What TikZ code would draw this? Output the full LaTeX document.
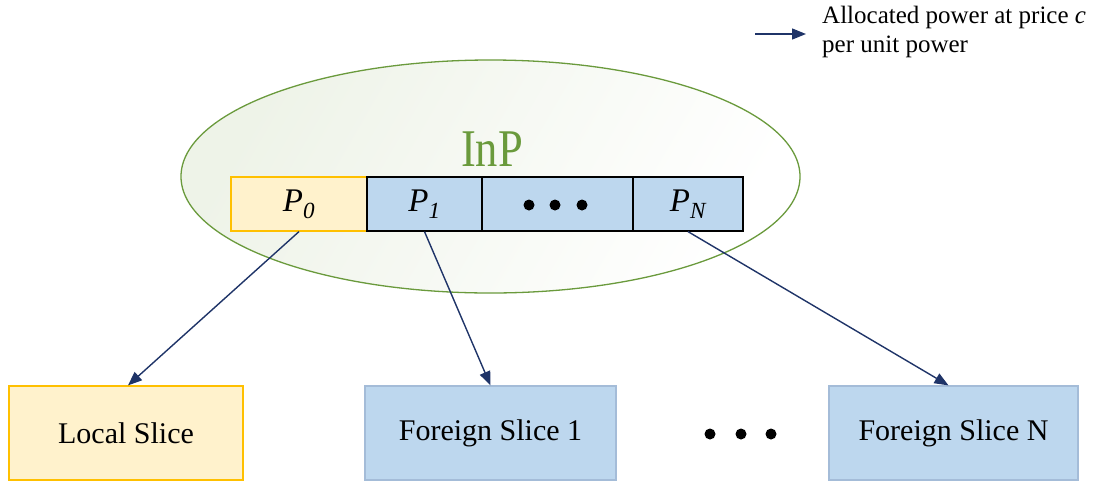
\documentclass[tikz,border=0pt]{standalone}
\usepackage{fontspec}
\setmainfont{Liberation Serif}
\usetikzlibrary{arrows.meta,shapes.geometric}
\definecolor{navy}{HTML}{1F3468}
\definecolor{inpgreen}{HTML}{6A9A3C}
\definecolor{yfill}{HTML}{FFF2CC}
\definecolor{yline}{HTML}{FFC000}
\definecolor{bfill}{HTML}{BDD7EE}
\definecolor{bline}{HTML}{A4BCD8}
\definecolor{efill}{HTML}{EEF3E8}
\tikzset{
  alloc/.style={draw=navy, line width=1.4pt, -{Triangle[length=14pt,width=11pt]}},
  cell/.style={draw, line width=1.2pt, inner sep=0pt, minimum height=54pt, font=\fontsize{33}{33}\selectfont\itshape},
  ycell/.style={cell, fill=yfill, draw=yline},
  bcell/.style={cell, fill=bfill, draw=black},
  slice/.style={draw, line width=1.2pt, inner sep=0pt, minimum height=94pt, font=\fontsize{30}{30}\selectfont},
}
\begin{document}
\begin{tikzpicture}[x=1pt,y=-1pt]
\useasboundingbox (0,0) rectangle (1097,480);
% InP ellipse
\node[ellipse, draw=inpgreen, line width=1.3pt, minimum width=619pt, minimum height=233pt,
      inner sep=0pt, left color=efill, right color=white, shading angle=60] (inp) at (490.5,176.5) {};
\node[text=inpgreen, inner sep=0pt, xscale=0.84, font=\fontsize{53}{53}\selectfont] (inplabel) at (492,149) {InP};
% bar
\node[ycell, minimum width=136pt] (p0) at (299,204) {P\textsubscript{0}};
\node[bcell, minimum width=115pt] (p1) at (424.5,204) {P\textsubscript{1}};
\node[bcell, minimum width=151pt] (pd) at (557.5,204) {};
\node[bcell, minimum width=110pt] (pn) at (688,204) {P\textsubscript{N}};
\fill (529,205) circle (5.5) (555,205) circle (5.5) (582,205) circle (5.5);
% slices
\node[slice, fill=yfill, draw=yline, minimum width=234pt] (local) at (126,433) {Local Slice};
\node[slice, fill=bfill, draw=bline, minimum width=251pt] (f1) at (490.5,433) {Foreign Slice 1};
\node[slice, fill=bfill, draw=bline, minimum width=249pt] (fn) at (953.5,433) {Foreign Slice N};
\fill (710,434) circle (5.5) (741,434) circle (5.5) (771,434) circle (5.5);
% arrows
\draw[alloc] (p0.south) -- ([xshift=2pt]local.north);
\draw[alloc] (p1.south) -- (f1.north);
\draw[alloc] (pn.south) -- ([xshift=-5pt]fn.north);
% legend
\coordinate (la) at (755,34);
\coordinate (lb) at (806,34);
\draw[alloc] (la) -- (lb);
\node[anchor=north west, inner sep=0pt, align=left, font=\fontsize{25}{29}\selectfont] (legend) at (822,6) {Allocated power at price \textit{c}\\per unit power};
\end{tikzpicture}
\end{document}
